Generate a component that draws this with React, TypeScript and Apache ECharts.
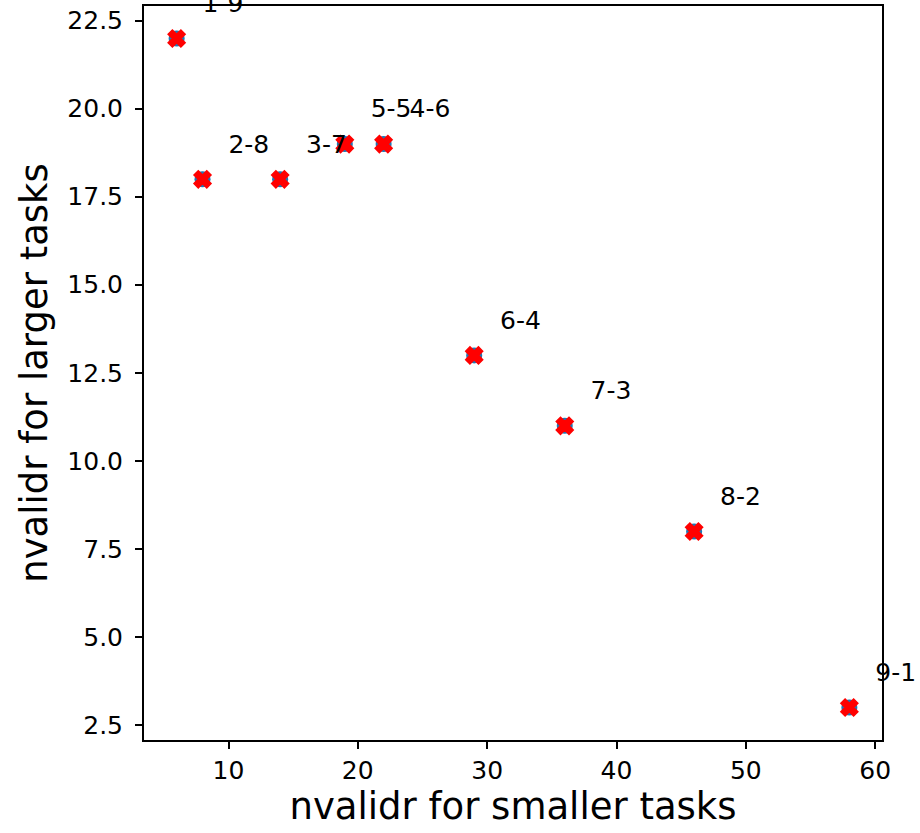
import React, { useEffect, useRef } from "react";
import * as echarts from "echarts";

const smallerTasks = [6, 8, 14, 19, 22, 29, 36, 46, 58];
const largerTasks = [22, 18, 18, 19, 19, 13, 11, 8, 3];
const splitLabels = ["1-9", "2-8", "3-7", "5-5", "4-6", "6-4", "7-3", "8-2", "9-1"];
const xTicks = [10, 20, 30, 40, 50, 60];
const yTicks = [2.5, 5, 7.5, 10, 12.5, 15, 17.5, 20, 22.5];
const labelOffsetX = 2;
const labelOffsetY = 1;

const X_PATH = "path://M1,0 L2,1 L3,0 L4,1 L3,2 L4,3 L3,4 L2,3 L1,4 L0,3 L1,2 L0,1 Z";
const FONT = "DejaVu Sans";

export default function App() {
  const ref = useRef<HTMLDivElement>(null);
  useEffect(() => {
    if (!ref.current) return;
    const chart = echarts.init(ref.current, null, { renderer: "svg" });
    const points = smallerTasks.map((x, i) => [x, largerTasks[i]]);
    const labelPts = smallerTasks.map((x, i) => ({
      value: [x + labelOffsetX, largerTasks[i] + labelOffsetY],
      name: splitLabels[i],
    }));
    chart.setOption({
      animation: false,
      backgroundColor: "#ffffff",
      textStyle: { fontFamily: FONT },
      grid: {
        left: 143,
        top: 5,
        width: 740,
        height: 736,
        show: true,
        borderColor: "#000",
        borderWidth: 2,
        containLabel: false,
      },
      xAxis: {
        type: "value",
        min: 3.4,
        max: 60.6,
        name: "nvalidr for smaller tasks",
        nameLocation: "middle",
        nameGap: 44,
        nameTextStyle: { fontSize: 37, color: "#000", fontFamily: FONT },
        axisLine: { show: true, onZero: false, lineStyle: { color: "#000", width: 2 } },
        axisTick: { show: true, inside: false, length: 8, lineStyle: { color: "#000", width: 2 }, customValues: xTicks },
        axisLabel: { show: true, margin: 17, fontSize: 25, color: "#000", fontFamily: FONT, customValues: xTicks },
        splitLine: { show: false },
      },
      yAxis: {
        type: "value",
        min: 2.05,
        max: 22.95,
        name: "nvalidr for larger tasks",
        nameLocation: "middle",
        nameGap: 90,
        nameRotate: 90,
        nameTextStyle: { fontSize: 37, color: "#000", fontFamily: FONT },
        axisLine: { show: true, onZero: false, lineStyle: { color: "#000", width: 2 } },
        axisTick: { show: true, inside: false, length: 8, lineStyle: { color: "#000", width: 2 }, customValues: yTicks },
        axisLabel: {
          show: true,
          margin: 20,
          fontSize: 25,
          color: "#000",
          fontFamily: FONT,
          customValues: yTicks,
          formatter: (v: number) => v.toFixed(1),
        },
        splitLine: { show: false },
      },
      series: [
        {
          type: "scatter",
          data: points,
          symbol: "circle",
          symbolSize: 16,
          itemStyle: { color: "#1f77b4", opacity: 1 },
          clip: false,
          z: 2,
        },
        {
          type: "scatter",
          data: points,
          symbol: X_PATH,
          symbolSize: 17,
          itemStyle: { color: "#ff0000", borderColor: "#ff0000", borderWidth: 1.5, opacity: 1 },
          clip: false,
          z: 3,
        },
        {
          type: "scatter",
          data: labelPts,
          symbolSize: 0,
          itemStyle: { color: "#000", opacity: 1 },
          clip: false,
          z: 4,
          label: {
            show: true,
            position: "right",
            distance: 0,
            formatter: (p: any) => p.name,
            fontSize: 25,
            color: "#000",
            opacity: 1,
            fontFamily: FONT,
          },
        },
      ],
    });
    return () => chart.dispose();
  }, []);
  return (
    <div
      ref={ref}
      style={{ position: "absolute", left: 0, top: 0, width: 920, height: 833 }}
    />
  );
}
